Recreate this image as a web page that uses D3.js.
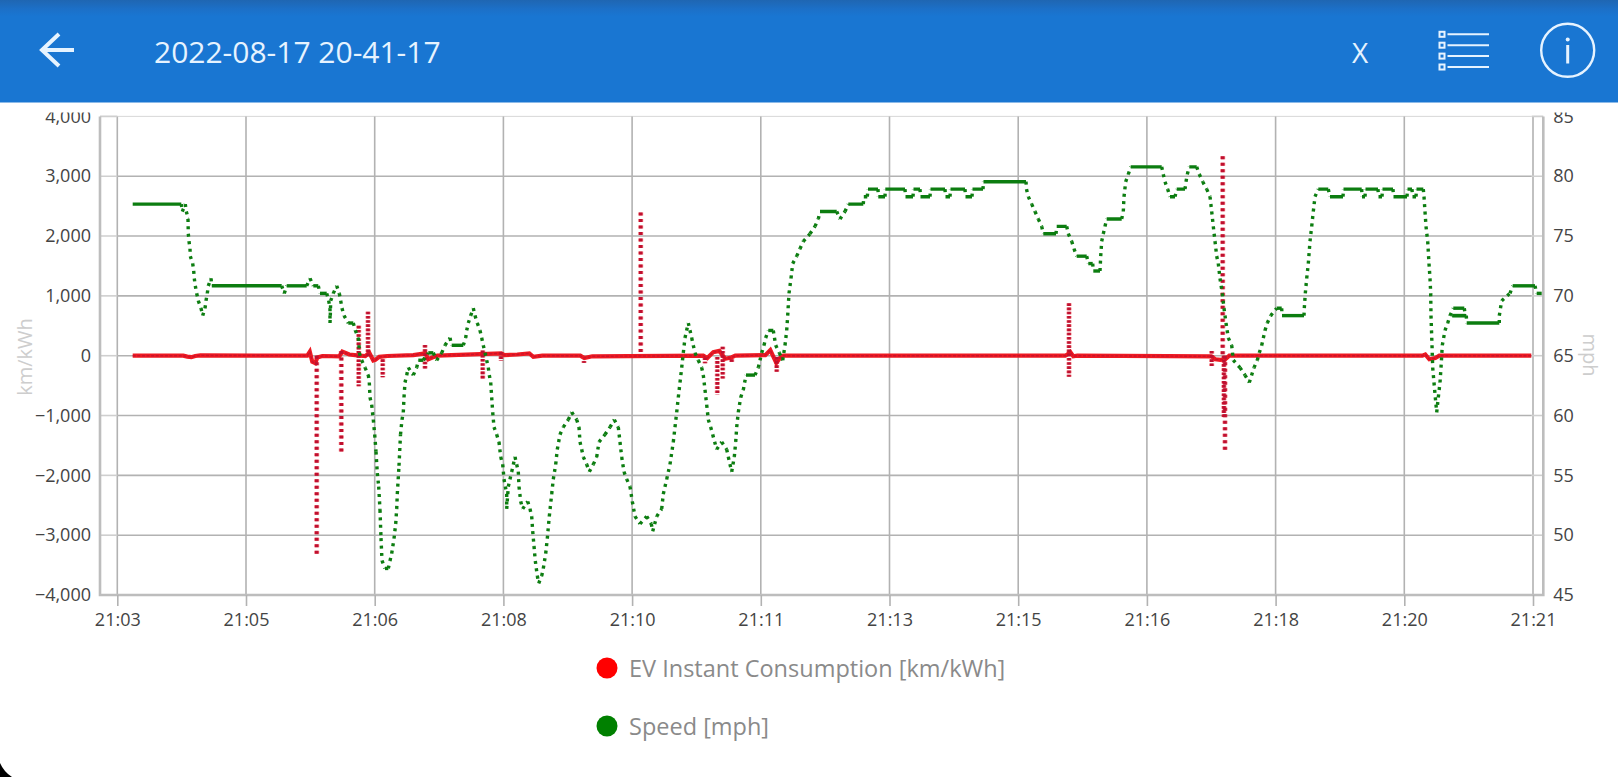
<!DOCTYPE html>
<html>
<head>
<meta charset="utf-8">
<script src="https://cdn.jsdelivr.net/npm/d3@7"></script>
<style>
  html, body { margin: 0; padding: 0; background: #fff; overflow: hidden; }
  svg { display: block; font-family: "Open Sans", sans-serif; }
</style>
</head>
<body>
<svg id="chart" width="1618" height="777"></svg>
<script>
// Trip log: title, axes and legend
const logTitle = "2022-08-17 20-41-17";
const timeTickLabels = ["21:03","21:05","21:06","21:08","21:10","21:11","21:13","21:15","21:16","21:18","21:20","21:21"];
const consumptionTicks = [4000,3000,2000,1000,0,-1000,-2000,-3000,-4000];
const speedTicks = [85,80,75,70,65,60,55,50,45];
const legendLabels = ["EV Instant Consumption [km/kWh]","Speed [mph]"];

// Speed trace: logged sample number and speed in mph
const speedSample = [15.4,64,65,68,69,71,70.7,71,71.7,72.7,73,75.4,76.4,77,78,79.4,81,83.7,85.4,87.7,88.7,90,91,93.7,94.5,164.4,167,169.4,189.4,192.7,196,201,202.7,209.4,211.4,212.7,212.7,212.7,213,213.4,216,219.4,222,223.4,224.7,226.7,231,236,238,241,241.7,242,244.4,247.7,251,252,252.7,254.4,256,257.4,258.7,260,261.4,262.7,263.7,264.7,267.7,271,272.7,274.4,276.7,278.4,279.4,280,281.7,283.2,284.7,286,286.7,287.7,289.4,291,296,299.4,301,306,311,316,319.4,324.4,327.7,332.7,334.4,346,348.4,349.4,351,353.4,356,357.7,360,362.7,364.4,366,367.7,369.4,371,372,373.4,374.4,375.4,376.7,379.4,381.7,383.4,385.4,386.7,389.4,389.4,391,394.4,397.7,399.4,401,401.7,403.4,405.4,410.4,412.7,414.4,415.4,416.7,418,420,421.4,424.4,426,428.4,430,432,434.4,436,438.4,440,442.7,446,451,454.4,459.4,461.7,462.7,464.4,466,469.4,472,476,479.4,481.7,487.7,492.7,497,501,502.7,504.4,506.7,509.4,512.7,515,517.7,522.7,529.4,534,535.4,539.4,544.4,546,549.4,552.7,556,557.7,559.4,561,562.7,564.4,566,567.7,571,574.4,576,577.7,581,584.4,586,587.7,589.4,591,593.4,595.4,599.4,604.4,609.4,611,614.4,617,618.4,619.4,621,623.4,626,628.7,637.7,641,644.4,646.7,648.4,651,656,658.4,662,665.4,667.7,669.4,670.4,671.7,673.7,675.4,679.4,682.7,686,692.7,697.7,701,702.7,719.4,722.7,727.7,731,746,746.5,750,750.7,760.7,761,767.7,768,787.7,788.2,795.7,796.2,802.7,803.2,812.7,813.2,827.7,828.2,832.7,833.2,847.7,848.2,854.7,855.2,865.7,866.2,908.7,909.2,911,914.4,917.7,921,924.4,926,938.7,939.4,949.4,951,954.4,956.7,959.4,969.4,971,975.4,976,982.7,983.4,984.4,986,987.7,989.4,1004.4,1006,1006.7,1008.4,1011,1013.4,1044.4,1046,1047.7,1050.4,1052.7,1057.7,1059.4,1067.7,1068.7,1070,1072,1079.4,1082,1085.4,1089.4,1092.7,1094.4,1096,1097.7,1099.4,1101,1102.7,1105,1106.7,1108.7,1111,1114.4,1116,1122.7,1127.7,1132,1136.7,1140,1142,1144.4,1147.7,1150,1153.4,1159.4,1164.4,1164.7,1186.7,1187,1188,1189.4,1191,1192.7,1194.4,1196,1197.7,1201,1211,1212.7,1225.7,1226.2,1244.4,1244.7,1247.7,1248.2,1260.7,1261.2,1264.7,1265.2,1275.7,1276.2,1289.7,1290.2,1294.7,1295.2,1298.7,1299.2,1306,1306.7,1307.7,1308.7,1310.4,1311.7,1312.7,1313.4,1313.7,1314.7,1315.4,1316.7,1318,1319.4,1321,1322.7,1323.7,1325,1327.7,1330.4,1332.7,1336,1347,1348,1335,1349,1349.4,1382,1382,1384.4,1392.7,1395.4,1417.7,1419.4,1424.4];
const speedMph = [77.67,77.67,77.05,77.67,77.05,76.43,76.43,75.19,74.56,73.94,73.32,72.70,72.08,71.46,70.84,70.21,69.59,68.97,68.35,68.97,69.59,70.21,70.84,71.46,70.84,70.84,70.21,70.84,70.84,71.46,70.84,70.84,70.21,70.21,69.59,68.97,68.35,67.73,68.35,69.59,70.21,70.84,70.21,69.59,68.97,68.35,67.73,67.73,67.11,66.49,65.87,65.24,64.62,64.00,63.38,62.76,61.52,60.89,59.65,58.41,56.98,55.18,54.06,52.11,49.75,47.87,47.22,47.22,47.85,48.47,49.71,50.95,52.20,53.44,55.80,58.41,59.65,60.27,61.52,62.76,63.38,64.00,63.38,64.00,64.62,64.62,65.24,65.24,64.62,65.24,65.87,66.49,65.87,65.87,66.49,67.11,67.73,68.35,68.97,68.35,67.73,67.11,66.49,65.87,65.24,64.62,64.00,63.38,62.76,61.52,60.27,59.03,58.41,57.79,56.54,55.92,54.68,53.44,52.20,54.06,55.30,56.54,55.92,55.30,54.06,52.82,52.20,52.82,52.20,51.57,50.33,49.09,47.85,46.60,45.98,46.60,47.22,48.47,49.71,51.57,53.44,54.68,55.92,57.17,58.41,59.03,59.65,60.27,59.65,59.03,57.79,57.17,56.54,55.92,55.30,55.92,56.54,57.79,58.41,59.03,59.65,59.03,57.79,56.54,55.30,54.68,54.06,52.82,51.57,50.95,51.57,50.95,50.33,51.57,52.20,53.44,54.68,55.92,57.79,59.03,60.27,61.52,62.76,64.00,65.24,66.49,67.73,66.49,65.87,65.24,64.62,64.00,63.38,62.14,60.89,59.65,59.03,58.41,57.17,57.79,57.17,56.54,55.30,56.54,57.79,59.03,60.27,61.52,62.14,63.38,63.38,64.00,65.24,65.87,66.49,67.11,67.11,65.87,65.24,64.62,65.87,67.11,68.35,70.21,71.46,72.70,73.32,73.94,74.56,75.19,75.81,76.43,77.05,77.05,76.43,77.05,77.67,77.67,78.29,78.29,78.92,78.92,78.29,78.29,78.92,78.92,78.29,78.29,78.92,78.92,78.29,78.29,78.92,78.92,78.29,78.29,78.92,78.92,78.29,78.29,78.92,78.92,79.54,79.54,78.92,78.29,77.67,77.05,76.43,75.81,75.19,75.19,75.81,75.81,75.19,74.56,73.94,73.32,73.32,72.70,72.70,72.08,72.08,73.32,74.56,75.19,75.81,76.43,76.43,77.05,78.29,79.54,80.16,80.78,80.78,80.16,79.54,78.92,78.29,78.29,78.92,78.92,79.54,80.16,80.78,80.78,80.16,79.54,78.92,78.29,77.05,75.81,74.56,73.32,72.70,71.46,70.21,68.97,67.73,66.49,65.87,64.62,64.00,63.38,62.76,64.00,64.62,65.24,65.87,67.11,67.73,68.35,68.97,68.97,68.35,68.35,68.97,70.21,71.46,72.70,74.56,75.81,77.05,78.29,78.92,78.92,78.29,78.29,78.92,78.92,78.29,78.29,78.92,78.92,78.29,78.29,78.92,78.92,78.29,78.29,78.92,78.92,78.29,78.29,78.92,78.92,78.29,77.05,75.81,74.56,72.70,71.46,70.21,68.35,65.87,64.00,62.76,61.52,60.27,61.52,62.76,64.00,65.87,67.11,67.73,68.35,68.97,68.97,68.35,68.35,68.35,67.73,67.73,68.35,69.59,70.21,70.84,70.84,70.21,70.21];

// Consumption baseline: sample number and km/kWh between the excursions
const consumptionSample = [15.4,66,70,74,78,83,190,192.5,195,198,200,205,222,225,232,240,248,252,256,258,262,270,296,308,311,315,320,384,387,400,412,416,425,463,467,475,586,590,596,602,608,614,618,648,653,659,663,666,948,951,953,956,960,1094,1098,1103,1108,1112,1305,1308,1312,1318,1322,1414];
const consumptionValue = [0,0,-15,-25,-5,5,0,65,-100,-125,-30,-5,-10,70,20,5,-5,50,-80,-70,-20,-5,10,40,-60,-30,0,40,10,20,40,-20,0,0,-40,-10,0,-40,60,80,-50,-30,0,10,95,-120,-30,0,0,30,60,-10,0,-10,-60,-70,-60,0,0,20,-60,-40,0,0];

// Consumption excursions: sample number with the highest and lowest km/kWh reached
const spikeSample = [199.4,224,241.4,250.7,265.4,307.7,365.4,383.7,466.7,523.4,587.7,600,605.4,614.4,659.4,951.7,1094.4,1105.4,1106.6,1107.7];
const spikeHigh   = [0,80,500,735,-60,180,85,60,-90,2395,-30,-20,150,-60,-20,875,80,3335,0,0];
const spikeLow    = [-3330,-1620,-510,-20,-360,-240,-380,-90,-120,0,-125,-655,-380,-115,-270,-350,-185,0,-1050,-1620];

const sampleExtent = [-17.3, 1426];
const sampleTickStep = 128.7;

const svg = d3.select("#chart");
const plot = { left: 100, right: 1543.3, top: 116.4, bottom: 595 };
const lastGridX = 1531.8;

const x = d3.scaleLinear().domain(sampleExtent).range([plot.left, plot.right]);
const yLeft = d3.scaleLinear().domain([-4000, 4000]).range([plot.bottom, plot.top]);
const yRight = d3.scaleLinear().domain([45, 85]).range([plot.bottom, plot.top]);

const RED = "#ee1a22", DARK_RED = "#bf1030", GREEN = "#0c7d10";
const GRID = "#b2b2b2", STUB = "#cfcfcf";

// The topmost tick labels slide under the app bar, so the chart is clipped below it
svg.append("defs").append("clipPath").attr("id", "below-bar")
  .append("rect").attr("x", 0).attr("y", 112.5).attr("width", 1618).attr("height", 665);

const chart = svg.append("g").attr("clip-path", "url(#below-bar)");

// Gridlines and axes, built on the library's axis generators
const tickSamples = timeTickLabels.map((_, i) => i * sampleTickStep);

const xAxis = d3.axisBottom(x).tickValues(tickSamples)
  .tickFormat((_, i) => timeTickLabels[i]).tickSize(11).tickPadding(7);
const leftAxis = d3.axisLeft(yLeft).tickValues(consumptionTicks).tickSize(0).tickPadding(9);
const rightAxis = d3.axisRight(yRight).tickValues(speedTicks).tickSize(0).tickPadding(10);

function styleAxis(g) {
  g.select(".domain").remove();
  g.selectAll("text").attr("fill", "#444").attr("font-size", 18)
    .attr("font-family", '"Open Sans", sans-serif');
}

// Vertical and horizontal grid
chart.append("g").selectAll("line").data(tickSamples).join("line")
  .attr("x1", d => x(d)).attr("x2", d => x(d))
  .attr("y1", plot.top).attr("y2", plot.bottom)
  .attr("stroke", GRID).attr("stroke-width", 1.6);

chart.append("g").selectAll("line").data(consumptionTicks).join("line")
  .attr("x1", x(0)).attr("x2", lastGridX)
  .attr("y1", d => yLeft(d)).attr("y2", d => yLeft(d))
  .attr("stroke", GRID).attr("stroke-width", d => d === 4000 ? 1 : 1.6)
  .attr("stroke-opacity", d => d === 4000 ? 0.5 : 1);

// Short stubs between the outer axes and the grid
[[plot.left, x(0)], [lastGridX, plot.right]].forEach(([a, b]) => {
  chart.append("g").selectAll("line").data(consumptionTicks).join("line")
    .attr("x1", a).attr("x2", b)
    .attr("y1", d => yLeft(d)).attr("y2", d => yLeft(d))
    .attr("stroke", STUB).attr("stroke-width", 1.6);
});

// Axis frame on the left, right and bottom
chart.append("path")
  .attr("d", `M${plot.left},${plot.top}V${plot.bottom}H${plot.right}V${plot.top}`)
  .attr("fill", "none").attr("stroke", "#bdbdbd").attr("stroke-width", 2.6);

chart.append("g").attr("transform", `translate(0,${plot.bottom})`).call(xAxis).call(styleAxis)
  .call(g => g.selectAll("line").attr("stroke", GRID).attr("stroke-width", 1.6));
chart.append("g").attr("transform", `translate(${plot.left},0)`).call(leftAxis).call(styleAxis);
chart.append("g").attr("transform", `translate(${plot.right},0)`).call(rightAxis).call(styleAxis);

// Consumption baseline: a solid band with a darker dotted core
const consumptionPoints = consumptionSample.map((s, i) => [s, consumptionValue[i]]);
const baseline = d3.line().x(d => x(d[0])).y(d => yLeft(d[1]));
chart.append("path").attr("d", baseline(consumptionPoints))
  .attr("fill", "none").attr("stroke", RED).attr("stroke-width", 4.2);
chart.append("path").attr("d", baseline(consumptionPoints))
  .attr("fill", "none").attr("stroke", DARK_RED).attr("stroke-width", 1.4)
  .attr("stroke-dasharray", "3 1.6").attr("stroke-opacity", 0.75);

// Excursions: dotted columns, tighter when the excursion is short
const spikes = spikeSample.map((s, i) => ({ s, high: spikeHigh[i], low: spikeLow[i] }));
const spikeLayer = chart.append("g");
[{ stroke: RED, width: 5, op: 0.55 }, { stroke: DARK_RED, width: 3.6, op: 1 }].forEach(layer => {
  spikeLayer.append("g").selectAll("line").data(spikes).join("line")
    .attr("x1", d => x(d.s)).attr("x2", d => x(d.s))
    .attr("y1", d => yLeft(d.high)).attr("y2", d => yLeft(d.low))
    .attr("stroke", layer.stroke).attr("stroke-width", layer.width)
    .attr("stroke-opacity", layer.op)
    .attr("stroke-dasharray", d => (d.high - d.low) < 1300 ? "2.6 1.6" : "3 3.5");
});

// Speed trace: level stretches run solid, changes between levels break into dots
const speedPoints = speedSample.map((s, i) => [s, speedMph[i]]);
chart.append("g").selectAll("line").data(d3.pairs(speedPoints)).join("line")
  .attr("x1", d => x(d[0][0])).attr("y1", d => yRight(d[0][1]))
  .attr("x2", d => x(d[1][0])).attr("y2", d => yRight(d[1][1]))
  .attr("stroke", GREEN).attr("stroke-width", 3.4)
  .attr("stroke-dasharray", d => d[0][1] === d[1][1] ? null : "3 4.4");

// Axis titles
chart.append("text").attr("transform", "translate(24,357) rotate(-90)")
  .attr("text-anchor", "middle").attr("dominant-baseline", "central")
  .attr("fill", "#cdcdcd").attr("font-size", 20).text("km/kWh");
chart.append("text").attr("transform", "translate(1590,355) rotate(90)")
  .attr("text-anchor", "middle").attr("dominant-baseline", "central")
  .attr("fill", "#cdcdcd").attr("font-size", 20).text("mph");

// Legend
const legendColors = [d3.rgb(255, 0, 0).formatHex(), d3.rgb(0, 128, 0).formatHex()];
const legend = svg.append("g").selectAll("g").data(legendLabels).join("g")
  .attr("transform", (_, i) => `translate(607,${668 + i * 58})`);
legend.append("circle").attr("r", 10.5).attr("fill", (_, i) => legendColors[i]);
legend.append("text").attr("x", 22).attr("dominant-baseline", "central")
  .attr("fill", "#8a8a8a").attr("font-size", 23.5).text(d => d);

// App bar
const bar = svg.append("defs").append("linearGradient").attr("id", "bar-shade")
  .attr("x1", 0).attr("x2", 0).attr("y1", 0).attr("y2", 1);
bar.append("stop").attr("offset", 0).attr("stop-color", "#1f66b2");
bar.append("stop").attr("offset", 0.09).attr("stop-color", "#1c70c8");
bar.append("stop").attr("offset", 0.16).attr("stop-color", "#1976d2");
bar.append("stop").attr("offset", 1).attr("stop-color", "#1976d2");
svg.append("rect").attr("width", 1618).attr("height", 102.5).attr("fill", "url(#bar-shade)");

const ICON = "#e6f3ff";
svg.append("text").attr("x", 154).attr("y", 51.5).attr("dominant-baseline", "central")
  .attr("fill", ICON).attr("font-size", 30).text(logTitle);
svg.append("text").attr("x", 1360).attr("y", 51.5).attr("text-anchor", "middle")
  .attr("dominant-baseline", "central").attr("fill", ICON).attr("font-size", 28).text("X");

// Back arrow
svg.append("path").attr("d", "M74,50H43M59,34L42,50L59,66")
  .attr("fill", "none").attr("stroke", ICON).attr("stroke-width", 4);

// List icon
[34.3, 45.2, 56.1, 67].forEach(rowY => {
  svg.append("rect").attr("x", 1439.5).attr("y", rowY - 2.5).attr("width", 5).attr("height", 5)
    .attr("fill", "none").attr("stroke", ICON).attr("stroke-width", 2);
  svg.append("line").attr("x1", 1447.5).attr("x2", 1489).attr("y1", rowY).attr("y2", rowY)
    .attr("stroke", ICON).attr("stroke-width", 2);
});

// Info icon
svg.append("circle").attr("cx", 1567.7).attr("cy", 50.3).attr("r", 26.5)
  .attr("fill", "none").attr("stroke", ICON).attr("stroke-width", 2.4);
svg.append("circle").attr("cx", 1567.7).attr("cy", 39.5).attr("r", 2).attr("fill", ICON);
svg.append("line").attr("x1", 1567.7).attr("x2", 1567.7).attr("y1", 45).attr("y2", 63.5)
  .attr("stroke", ICON).attr("stroke-width", 3);

// Rounded screen corner
svg.append("path").attr("d", "M0,763Q4,772 12,777H0Z").attr("fill", "#000");
</script>
</body>
</html>
